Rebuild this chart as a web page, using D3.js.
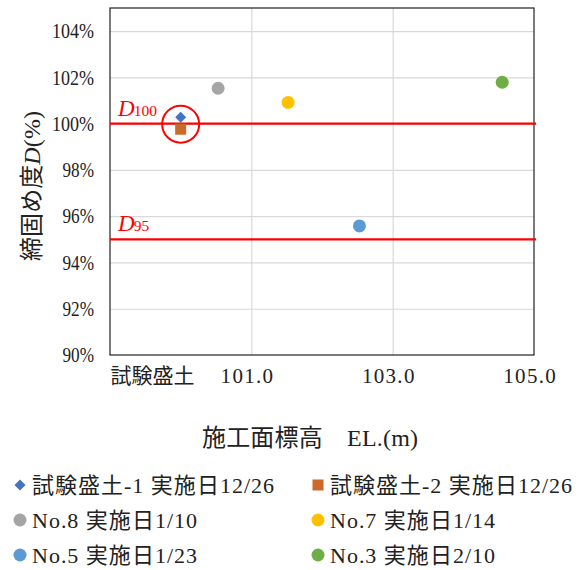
<!DOCTYPE html>
<html>
<head>
<meta charset="utf-8">
<script src="https://cdn.jsdelivr.net/npm/d3@7"></script>
<style>
  html, body { margin: 0; padding: 0; background: #fff; }
  svg { display: block; }
</style>
</head>
<body>
<svg id="chart" width="587" height="570"></svg>
<script>
// Compaction degree per survey, plotted against construction surface elevation
const seriesNames = [
  "試験盛土-1 実施日12/26",
  "試験盛土-2 実施日12/26",
  "No.8 実施日1/10",
  "No.7 実施日1/14",
  "No.5 実施日1/23",
  "No.3 実施日2/10"
];
const elevations = [100.0, 100.0, 100.53, 101.52, 102.53, 104.55];   // EL.(m)
const compaction = [100.28, 99.76, 101.53, 100.92, 95.58, 101.79];    // %
const markerShapes = ["diamond", "square", "circle", "circle", "circle", "circle"];
const markerColors = ["#4472C4", "#CC6A2B", "#A5A5A5", "#FFC000", "#5B9BD5", "#70AD47"];

const yTicks = [90, 92, 94, 96, 98, 100, 102, 104];
const xTicks = [99, 101, 103, 105];
const xTickLabels = ["試験盛土", "101.0", "103.0", "105.0"];

// Reference compaction levels
const refLevels = [100, 95];
const refLabels = ["100", "95"];

// Test-embankment points highlighted with a ring
const ringIndex = [0, 1];

const FONT = "'Liberation Serif','Noto Sans CJK JP',serif";

// Width of a string set in a fixed-pitch Japanese face:
// half-width for ASCII, full-width for everything else.
function pitchWidth(str, size) {
  let w = 0;
  for (const ch of str) w += ch.codePointAt(0) < 0x2000 ? 0.5 : 1;
  return w * size;
}
// Stretch or narrow a text run to that fixed-pitch width
function fitPitch(sel, size) {
  sel.each(function () {
    const target = pitchWidth(this.textContent, size);
    const natural = this.getComputedTextLength();
    d3.select(this)
      .attr("textLength", target)
      .attr("lengthAdjust", natural > target ? "spacingAndGlyphs" : "spacing");
  });
}

const svg = d3.select("#chart");
const plot = { left: 110, right: 534, top: 8, bottom: 355 };

const x = d3.scaleLinear().domain([99, 105]).range([plot.left, plot.right]);
const y = d3.scaleLinear().domain([90, 105]).range([plot.bottom, plot.top]);

// Gridlines
svg.append("g")
  .attr("transform", `translate(0,${plot.bottom})`)
  .call(d3.axisBottom(x).tickValues(xTicks.slice(1, -1)).tickSize(-(plot.bottom - plot.top)).tickFormat(""))
  .call(g => g.select(".domain").remove())
  .call(g => g.selectAll("line").attr("stroke", "#D9D9D9").attr("stroke-width", 1.2));

svg.append("g")
  .attr("transform", `translate(${plot.left},0)`)
  .call(d3.axisLeft(y).tickValues(yTicks.slice(1)).tickSize(-(plot.right - plot.left)).tickFormat(""))
  .call(g => g.select(".domain").remove())
  .call(g => g.selectAll("line").attr("stroke", "#D9D9D9").attr("stroke-width", 1.2));

// Plot frame
svg.append("rect")
  .attr("x", plot.left).attr("y", plot.top)
  .attr("width", plot.right - plot.left).attr("height", plot.bottom - plot.top)
  .attr("fill", "none").attr("stroke", "#222").attr("stroke-width", 1.2);

// Y axis tick labels
svg.append("g")
  .attr("transform", `translate(${plot.left},0)`)
  .call(d3.axisLeft(y).tickValues(yTicks).tickSize(0).tickPadding(16).tickFormat(d => d + "%"))
  .call(g => g.select(".domain").remove())
  .call(g => g.selectAll("text")
    .attr("font-family", FONT).attr("font-size", 21).attr("fill", "#222")
    .call(fitPitch, 21));

// X axis tick labels
svg.append("g")
  .attr("transform", `translate(0,${plot.bottom})`)
  .call(d3.axisBottom(x).tickValues(xTicks).tickSize(0).tickPadding(13)
    .tickFormat((d, i) => xTickLabels[i]))
  .call(g => g.select(".domain").remove())
  .call(g => g.selectAll("text")
    .attr("font-family", FONT).attr("font-size", 21).attr("fill", "#222")
    .attr("text-anchor", (d, i) => i === 0 ? "start" : "middle")
    .attr("dx", (d, i) => i === 0 ? 0 : -5)
    .call(fitPitch, 21));

// Reference lines
refLevels.forEach((lv, i) => {
  svg.append("line")
    .attr("x1", plot.left).attr("x2", plot.right + 2)
    .attr("y1", y(lv)).attr("y2", y(lv))
    .attr("stroke", "#FF0000").attr("stroke-width", 2.4);
  const t = svg.append("text")
    .attr("x", plot.left + 8).attr("y", y(lv) - 8)
    .attr("fill", "#FF0000").attr("font-family", "'Liberation Serif',serif");
  t.append("tspan").attr("font-size", 23).attr("font-style", "italic").text("D");
  t.append("tspan").attr("font-size", 15.5).attr("dx", -1).text(refLabels[i]);
});

// Highlight ring around the test embankment points
const ringX = d3.mean(ringIndex, i => elevations[i]);
const ringY = d3.mean(ringIndex, i => compaction[i]);
svg.append("circle")
  .attr("cx", x(ringX)).attr("cy", y(ringY) + 1)
  .attr("r", 18.5)
  .attr("fill", "none").attr("stroke", "#FF0000").attr("stroke-width", 2);

// Marker drawing helper
function drawMarker(g, shape, color, cx, cy, size) {
  if (shape === "diamond") {
    const s = size * 0.5;
    g.append("path")
      .attr("d", `M${cx},${cy - s}L${cx + s},${cy}L${cx},${cy + s}L${cx - s},${cy}Z`)
      .attr("fill", color);
  } else if (shape === "square") {
    const s = size * 0.5;
    g.append("rect")
      .attr("x", cx - s).attr("y", cy - s).attr("width", 2 * s).attr("height", 2 * s)
      .attr("fill", color);
  } else {
    g.append("circle").attr("cx", cx).attr("cy", cy).attr("r", size * 0.5).attr("fill", color);
  }
}

// Data points
const pts = svg.append("g");
seriesNames.forEach((name, i) => {
  const size = markerShapes[i] === "circle" ? 13 : 11;
  drawMarker(pts, markerShapes[i], markerColors[i], x(elevations[i]), y(compaction[i]), size);
});

// Axis titles
const xTitle = "施工面標高　EL.(m)";
svg.append("text")
  .attr("x", 310).attr("y", 438)
  .attr("text-anchor", "middle")
  .attr("dominant-baseline", "central")
  .attr("font-family", FONT).attr("font-size", 24).attr("fill", "#222")
  .text(xTitle)
  .call(fitPitch, 24);

const yTitle = svg.append("text")
  .attr("transform", "translate(32,186) rotate(-90)")
  .attr("text-anchor", "middle")
  .attr("dominant-baseline", "central")
  .attr("font-family", FONT).attr("font-size", 24).attr("fill", "#222")
  .attr("textLength", 150).attr("lengthAdjust", "spacing");
yTitle.append("tspan").text("締固め度");
yTitle.append("tspan").attr("font-style", "italic").text("D");
yTitle.append("tspan").text("(%)");

// Legend, two columns
const legendCols = [20, 318];
const legendRows = [485, 520, 555];
const LEGEND_SIZE = 22;
const legend = svg.append("g");
seriesNames.forEach((name, i) => {
  const lx = legendCols[i % 2];
  const ly = legendRows[Math.floor(i / 2)];
  const size = markerShapes[i] === "circle" ? 13 : 11;
  drawMarker(legend, markerShapes[i], markerColors[i], lx, ly, size);
  legend.append("text")
    .attr("x", lx + 12).attr("y", ly)
    .attr("dominant-baseline", "central")
    .attr("font-family", FONT).attr("font-size", LEGEND_SIZE).attr("fill", "#222")
    .text(name)
    .call(fitPitch, LEGEND_SIZE);
});
</script>
</body>
</html>
